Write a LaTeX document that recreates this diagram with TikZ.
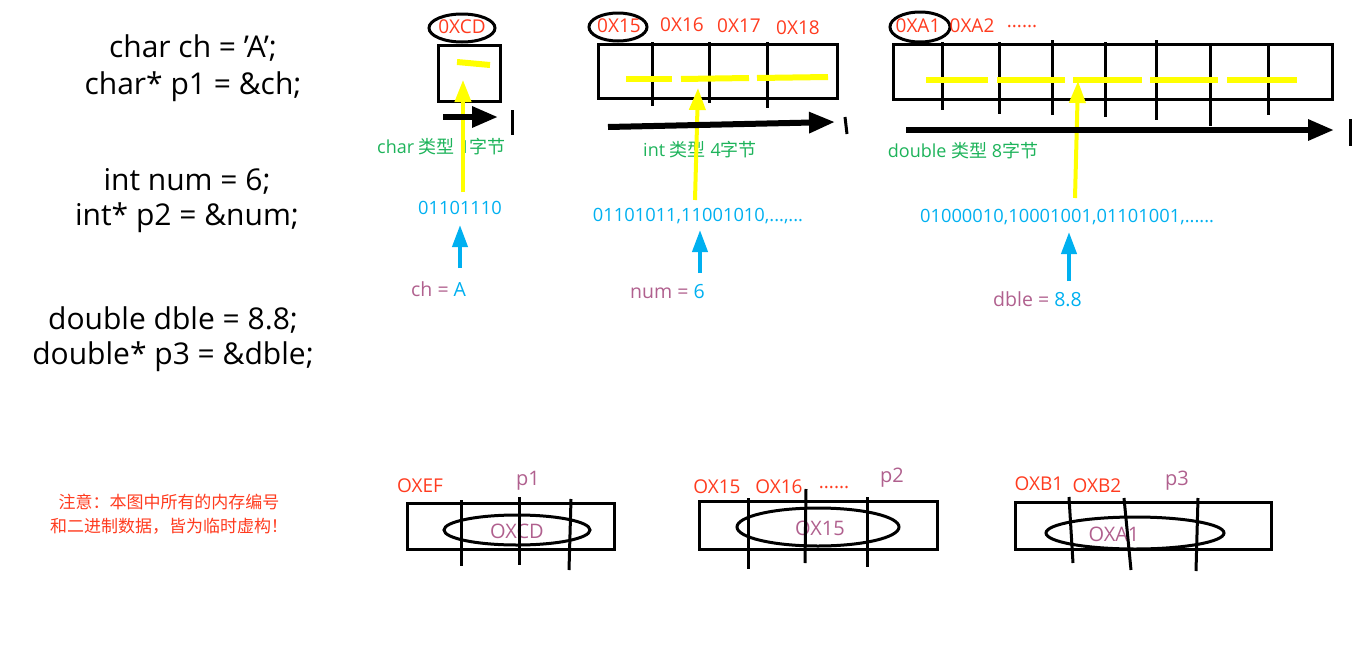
\documentclass[tikz,border=0pt]{standalone}
\usepackage{fontspec}
\setmainfont{Open Sans}
\newfontfamily\cjk{Noto Sans CJK SC}
\usetikzlibrary{arrows.meta}
\definecolor{hexred}{HTML}{FF3B1F}
\definecolor{grn}{HTML}{1DB35A}
\definecolor{blu}{HTML}{00B0F0}
\definecolor{pur}{HTML}{B0608E}
\definecolor{yel}{HTML}{FFFF00}
\tikzset{
  code/.style={font=\fontsize{30}{34}\selectfont, align=center, inner sep=0pt},
  hex/.style={text=hexred, font=\fontsize{19}{22}\selectfont, inner sep=0pt},
  typ/.style={text=grn, font=\fontsize{18}{21}\selectfont, inner sep=0pt},
  bin/.style={text=blu, font=\fontsize{18.3}{21}\selectfont, inner sep=0pt},
  val/.style={font=\fontsize{19.5}{22}\selectfont, inner sep=0pt},
  ptr/.style={text=pur, font=\fontsize{20}{22}\selectfont, inner sep=0pt},
  cell/.style={draw=black, line width=3pt},
  tick/.style={draw=black, line width=3pt},
  ring/.style={draw=black, line width=3pt},
  ybar/.style={draw=yel, line width=6pt},
  yarrow/.style={draw=yel, line width=4pt, -{Triangle[width=16pt,length=22pt]}},
  barrow/.style={draw=black, line width=6pt, -{Triangle[width=20pt,length=26pt]}},
  blarrow/.style={draw=blu, line width=4pt, -{Triangle[width=15pt,length=22pt]}},
  note/.style={text=hexred, font=\cjk\fontsize{17}{24}\selectfont, align=center, inner sep=0pt}
}
\begin{document}
\begin{tikzpicture}[x=1pt,y=-1pt]
\useasboundingbox (0,0) rectangle (1353,651);

% left code
\node[code] (c1) at (193,48) {char ch = {\char"27}A{\char"27};};
\node[code] (c2) at (193,87) {char* p1 = \&ch;};
\node[code] (c3) at (187,181) {int num = 6;};
\node[code] (c4) at (187,218) {int* p2 = \&num;};
\node[code] (c5) at (173,320) {double dble = 8.8;};
\node[code] (c6) at (173,357) {double* p3 = \&dble;};

% ---------- char ----------
\draw[cell] (438,45) rectangle (500,101);
\node[hex] (hCD) at (462,27) {0XCD};
\draw[ring] (462,28) ellipse (33pt and 14pt);
\draw[ybar] (457,62) -- (490,65);
\coordinate (yc) at (463,80);
\node[typ, anchor=west] (tc) at (377,147) {char {\cjk 类型} 1{\cjk 字节}};
\node[bin] (bc) at (460,208) {01101110};
\draw[yarrow] (463,192) -- (yc);
\coordinate (ac1) at (443,117);
\coordinate (ac2) at (498,117);
\draw[barrow] (ac1) -- (ac2);
\draw[tick] (512,110) -- (512,135);
\node[val, anchor=west] (vc) at (411,289) {\textcolor{pur}{ch =} \textcolor{blu}{A}};
\draw[blarrow] (460,268) -- (bc.south |- 0,225);

% ---------- int ----------
\draw[cell] (598,44) rectangle (837,98);
\draw[tick] (652,42) -- (652,106);
\draw[tick] (709,42) -- (709,103);
\draw[tick] (767,42) -- (767,108);
\node[hex] (h15) at (619,26) {0X15};
\draw[ring] (618,27) ellipse (29pt and 14pt);
\node[hex] (h16) at (682,25) {0X16};
\node[hex] (h17) at (739,26) {0X17};
\node[hex] (h18) at (798,28) {0X18};
\draw[ybar] (626,79) -- (672,79);
\draw[ybar] (681,79) -- (749,78);
\draw[ybar] (757,78) -- (828,77);
\coordinate (yi) at (698,88);
\node[typ] (ti) at (700,150) {int {\cjk 类型} 4{\cjk 字节}};
\node[bin] (bi) at (698,216) {01101011,11001010,...,...};
\draw[yarrow] (695,200) -- (yi);
\coordinate (ai1) at (608,127);
\coordinate (ai2) at (835,122);
\draw[barrow] (ai1) -- (ai2);
\draw[tick] (845,117) -- (847,134);
\node[val, anchor=west] (vi) at (630,292) {\textcolor{pur}{num =} \textcolor{blu}{6}};
\draw[blarrow] (700,273) -- (700,230);

% ---------- double ----------
\draw[cell] (893,44) rectangle (1332,99);
\draw[tick] (942,42) -- (942,110);
\draw[tick] (999,42) -- (999,114);
\draw[tick] (1052,40) -- (1052,115);
\draw[tick] (1105,42) -- (1105,117);
\draw[tick] (1156,40) -- (1156,120);
\draw[tick] (1210,44) -- (1210,126);
\draw[tick] (1268,44) -- (1268,115);
\node[hex] (hA1) at (918,26) {0XA1};
\draw[ring] (920,27) ellipse (30pt and 15pt);
\node[hex] (hA2) at (972,26) {0XA2};
\node[hex] (hdots) at (1022,27) {......};
\draw[ybar] (926,80) -- (988,80);
\draw[ybar] (997,80) -- (1065,80);
\draw[ybar] (1073,80) -- (1142,80);
\draw[ybar] (1150,80) -- (1218,80);
\draw[ybar] (1227,80) -- (1297,80);
\coordinate (yd) at (1078,81);
\node[typ] (td) at (963,151) {double {\cjk 类型} 8{\cjk 字节}};
\node[bin] (bd) at (1067,217) {01000010,10001001,01101001,......};
\draw[yarrow] (1075,198) -- (yd);
\coordinate (ad1) at (906,130);
\coordinate (ad2) at (1334,130);
\draw[barrow] (ad1) -- (ad2);
\draw[tick] (1350,119) -- (1350,146);
\node[val, anchor=west] (vd) at (993,299) {\textcolor{pur}{dble =} \textcolor{blu}{8.8}};
\draw[blarrow] (1069,281) -- (1069,232);

% note
\node[note] (nt) at (169,514) {注意：本图中所有的内存编号\\和二进制数据，皆为临时虚构！};

% ---------- bottom p1 ----------
\draw[cell] (407,503) rectangle (614,549);
\node[hex] (e1) at (420,486) {OXEF};
\node[ptr] (p1) at (528,481) {p1};
\draw[ring] (517,530) ellipse (73pt and 15pt);
\node[ptr] (v1) at (517,531) {OXCD};
\draw[tick] (461,500) -- (461,566);
\draw[tick] (519,497) -- (519,565);
\draw[tick] (571,499) -- (569,570);

% ---------- bottom p2 ----------
\draw[cell] (699,501) rectangle (937,549);
\node[hex] (e2) at (717,487) {OX15};
\node[hex] (e3) at (779,487) {OX16};
\node[hex] (e4) at (834,488) {......};
\node[ptr] (p2) at (892,478) {p2};
\draw[ring] (818,527) ellipse (81pt and 19pt);
\node[ptr] (v2) at (820,528) {OX15};
\draw[tick] (748,498) -- (748,569);
\draw[tick] (806,489) -- (805,563);
\draw[tick] (867,497) -- (867,567);

% ---------- bottom p3 ----------
\draw[cell] (1015,502) rectangle (1271,549);
\node[hex] (e5) at (1039,484) {OXB1};
\node[hex] (e6) at (1097,486) {OXB2};
\node[ptr] (p3) at (1177,481) {p3};
\draw[ring] (1135,533) ellipse (89pt and 16pt);
\node[ptr] (v3) at (1114,534) {OXA1};
\draw[tick] (1069,497) -- (1073,563);
\draw[tick] (1124,498) -- (1131,570);
\draw[tick] (1198,498) -- (1196,571);
\end{tikzpicture}
\end{document}
